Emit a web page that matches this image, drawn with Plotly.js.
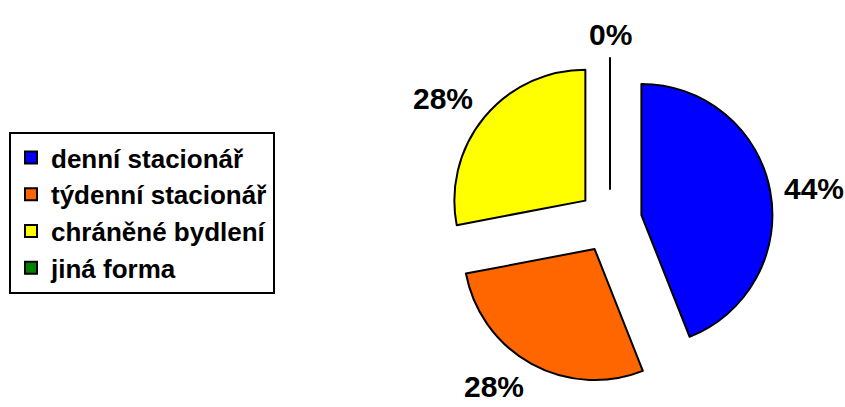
<!DOCTYPE html>
<html>
<head>
<meta charset="utf-8">
<script src="https://cdn.plot.ly/plotly-3.0.1.min.js"></script>
<style>html,body{margin:0;padding:0;background:#fff;}#chart{width:845px;height:407px;}</style>
</head>
<body>
<div id="chart"></div>
<script>
const categories = ["denní stacionář", "týdenní stacionář", "chráněné bydlení", "jiná forma"];
const values = [44, 28, 28, 0];
const colors = ["#0000FF", "#FF6600", "#FFFF00", "#008000"];

const W = 845, H = 407;
const FONT = "Arial, 'Liberation Sans', sans-serif";
const pull = 0.244;
// pie geometry (pixels)
const cx = 610, cy = 221, R = 131;
const box = R * (2 + 2 * pull);
const domX = [(cx - box / 2) / W, (cx + box / 2) / W];
const domY = [1 - (cy + box / 2) / H, 1 - (cy - box / 2) / H];

const LBL = 30;
const total = values.reduce((a, b) => a + b, 0);
const annotations = [];
const shapes = [];
let cum = 0;
values.forEach((v, i) => {
  const start = cum / total * 2 * Math.PI;
  cum += v;
  const end = cum / total * 2 * Math.PI;
  const mid = (start + end) / 2;
  const dx = Math.sin(mid), dy = -Math.cos(mid);
  const dist = 175;
  const pct = Math.round(v / total * 100) + "%";
  const xa = dx > 0.15 ? "left" : (dx < -0.15 ? "right" : "center");
  const ya = dy > 0.3 ? "top" : (dy < -0.3 ? "bottom" : "middle");
  const ys = ya === "top" ? (0.905 - 0.716) * LBL + 1 : (ya === "bottom" ? -(0.212 * LBL + 1) : 0);
  annotations.push({
    xref: "paper", yref: "paper",
    x: (cx + dx * dist) / W, y: 1 - (cy + dy * dist) / H,
    text: "<b>" + pct + "</b>", showarrow: false,
    font: {family: FONT, size: LBL, color: "#000"},
    xanchor: xa, yanchor: ya, yshift: ys
  });
  if (v === 0) {
    const p = R * pull;
    shapes.push({
      type: "line", xref: "paper", yref: "paper",
      x0: (cx + dx * p) / W, y0: 1 - (cy + dy * p) / H,
      x1: (cx + dx * (p + R)) / W, y1: 1 - (cy + dy * (p + R)) / H,
      line: {color: "#000", width: 2}
    });
  }
});

const trace = {
  type: "pie",
  labels: categories,
  values: values,
  sort: false,
  direction: "clockwise",
  rotation: 0,
  pull: values.map(() => pull),
  textinfo: "none",
  hoverinfo: "none",
  marker: {colors: colors, line: {color: "#000", width: 2}},
  domain: {x: domX, y: domY}
};

const layout = {
  width: W, height: H,
  margin: {l: 0, r: 0, t: 0, b: 0},
  paper_bgcolor: "#fff",
  showlegend: true,
  legend: {
    x: 9 / W, y: 1 - 132 / H, xanchor: "left", yanchor: "top",
    bordercolor: "#000", borderwidth: 2, bgcolor: "#fff",
    font: {family: FONT, size: 26, color: "#000", weight: 700},
    traceorder: "normal"
  },
  annotations: annotations,
  shapes: shapes
};

Plotly.newPlot("chart", [trace], layout, {displayModeBar: false, staticPlot: true});
</script>
</body>
</html>
